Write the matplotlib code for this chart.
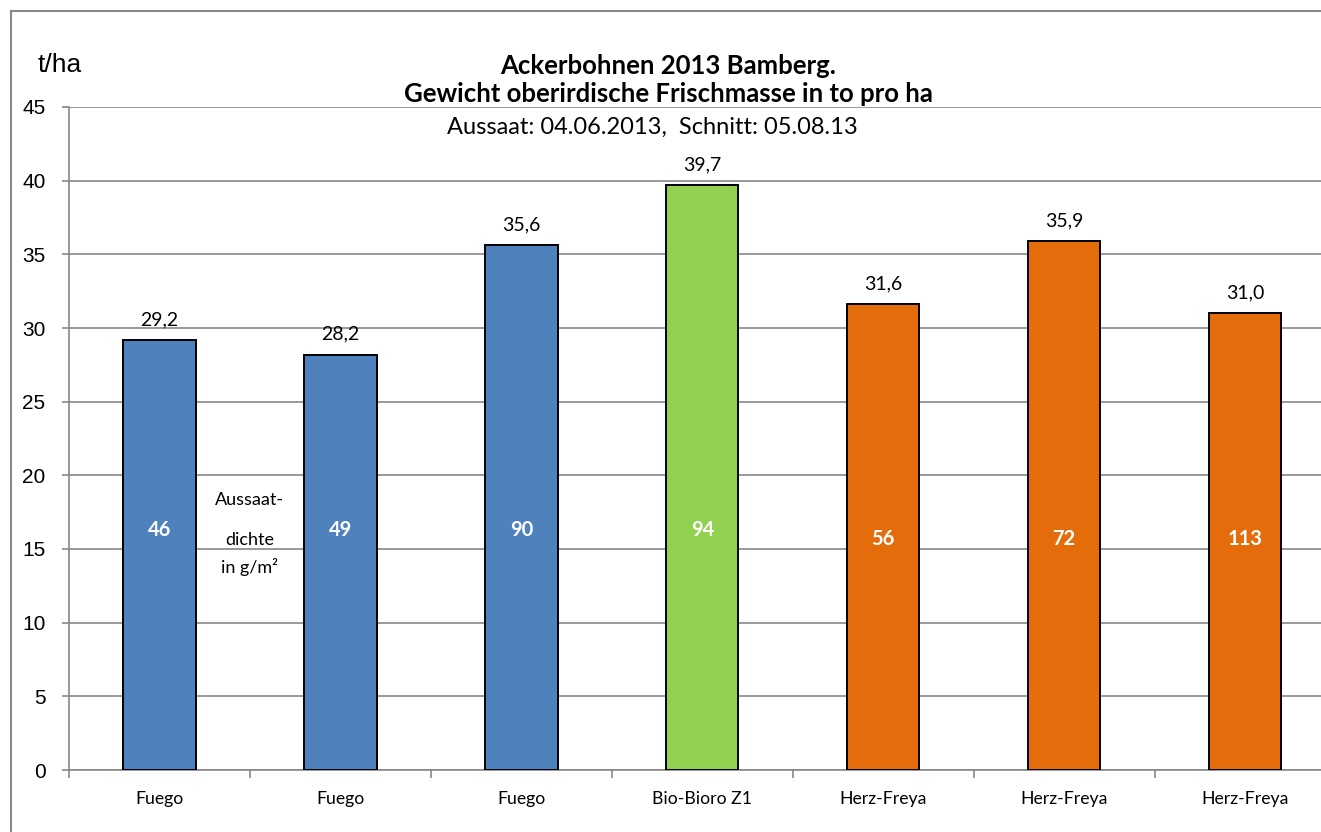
import matplotlib
matplotlib.use('Agg')
import matplotlib.pyplot as plt
from matplotlib.lines import Line2D

# Data
sorten = ['Fuego', 'Fuego', 'Fuego', 'Bio-Bioro Z1', 'Herz-Freya', 'Herz-Freya', 'Herz-Freya']
frischmasse = [29.2, 28.2, 35.6, 39.7, 31.6, 35.9, 31.0]
aussaatdichte = ['46', '49', '90', '94', '56', '72', '113']
farben = ['#4F81BD', '#4F81BD', '#4F81BD', '#92D050', '#E46C0A', '#E46C0A', '#E46C0A']
y_ticks = [0, 5, 10, 15, 20, 25, 30, 35, 40, 45]

grau = '#888888'
cal = ['Lato', 'DejaVu Sans']
ari = ['Liberation Sans', 'DejaVu Sans']

W, H = 1321, 832
fig = plt.figure(figsize=(W / 100, H / 100), dpi=100)

# Plot area (extends past the right edge like the original screenshot)
left, right, top, bottom = 69, 1335.5, 107, 770
ax = fig.add_axes([left / W, 1 - bottom / H, (right - left) / W, (bottom - top) / H])

x = list(range(len(sorten)))
ax.bar(x, frischmasse, width=0.40, color=farben, edgecolor='black', linewidth=1.4, zorder=3)

ax.set_xlim(-0.5, len(sorten) - 0.5)
ax.set_ylim(0, 45)
ax.set_yticks(y_ticks)
ax.set_yticklabels([str(t) for t in y_ticks], family=ari, fontsize=15)
ax.yaxis.grid(True, color=grau, linewidth=1.2, zorder=0)

# category boundaries get tick marks, labels sit centered under bars
ax.set_xticks([i - 0.5 for i in range(len(sorten))])
ax.set_xticklabels([])
ax.tick_params(axis='x', direction='out', length=6, color=grau, width=1.2)
ax.tick_params(axis='y', direction='out', length=5, color=grau, width=1.2, pad=12)
for i, s in enumerate(sorten):
    ax.text(i, -2.0, s, ha='center', va='center', family=cal, fontsize=12.7)

for sp in ['top', 'right']:
    ax.spines[sp].set_visible(False)
for sp in ['left', 'bottom']:
    ax.spines[sp].set_color(grau)
    ax.spines[sp].set_linewidth(1.2)

# value labels above bars
for i, v in enumerate(frischmasse):
    ax.text(i, v + 0.8, f'{v:.1f}'.replace('.', ','), ha='center', va='bottom',
            family=cal, fontsize=14)

# seeding density inside bars
for i, d in enumerate(aussaatdichte):
    yy = 16.3 if i < 4 else 15.7
    ax.text(i, yy, d, ha='center', va='center', color='white',
            fontweight='bold', family=cal, fontsize=14.5)

# annotation between first two bars
ax.text(0.5, 18.3, 'Aussaat-', ha='center', va='center', family=cal, fontsize=13)
ax.text(0.5, 15.6, 'dichte', ha='center', va='center', family=cal, fontsize=13)
ax.text(0.5, 13.8, 'in g/m²', ha='center', va='center', family=cal, fontsize=13)

# titles
fig.text(668 / W, 1 - 66 / H, 'Ackerbohnen 2013 Bamberg.', ha='center', va='center',
         family=cal, fontweight='bold', fontsize=18.5)
fig.text(668 / W, 1 - 94 / H, 'Gewicht oberirdische Frischmasse in to pro ha',
         ha='center', va='center', family=cal, fontweight='bold', fontsize=18.5)
fig.text(652 / W, 1 - 127 / H, 'Aussaat: 04.06.2013,  Schnitt: 05.08.13',
         ha='center', va='center', family=cal, fontsize=17)
fig.text(38 / W, 1 - 65 / H, 't/ha', ha='left', va='center', family=ari, fontsize=19)

# outer chart frame (left and top edges visible)
fig.add_artist(Line2D([11 / W, 11 / W], [0, 1 - 11 / H], color=grau, lw=1.5))
fig.add_artist(Line2D([11 / W, 1], [1 - 11 / H, 1 - 11 / H], color=grau, lw=1.5))

fig.savefig('out.png', dpi=100)
